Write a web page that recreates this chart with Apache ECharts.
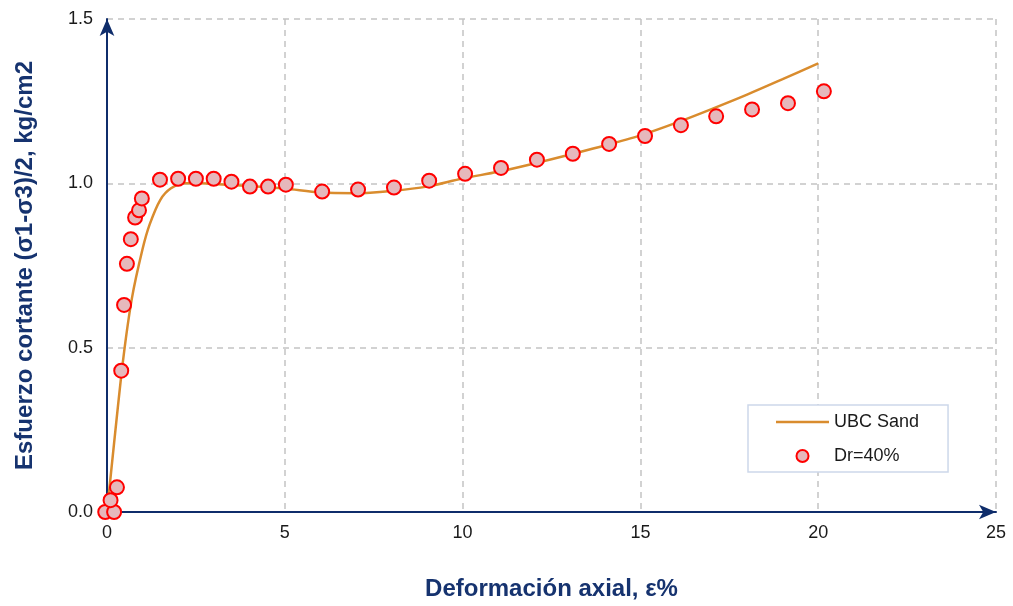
<!DOCTYPE html>
<html>
<head>
<meta charset="utf-8">
<title>Esfuerzo cortante vs deformación axial</title>
<script src="https://cdn.jsdelivr.net/npm/echarts@6/dist/echarts.min.js"></script>
<style>
  html, body { margin: 0; padding: 0; background: #ffffff; overflow: hidden; }
  #chart { width: 1013px; height: 606px; }
</style>
</head>
<body>
<div id="chart"></div>
<script>
// UBC Sand model curve: axial strain (%) and shear stress (kg/cm2)
const modelStrain = [0, 0.2, 0.45, 0.7, 1.0, 1.2, 1.5, 1.8, 2.2, 2.6, 3, 4, 5, 6, 7, 8, 9, 10, 11, 12, 13, 14, 15, 16, 17, 18, 19, 20];
const modelStress = [0, 0.21, 0.46, 0.65, 0.80, 0.875, 0.95, 0.985, 1.0, 1.0, 0.998, 0.992, 0.984, 0.972, 0.970, 0.977, 0.99, 1.015, 1.035, 1.06, 1.087, 1.115, 1.146, 1.184, 1.226, 1.27, 1.317, 1.365];

// Laboratory test, Dr = 40%
const testStrain = [-0.05, 0.2, 0.1, 0.28, 0.4, 0.48, 0.56, 0.67, 0.79, 0.9, 0.98, 1.49, 2.0, 2.5, 3.0, 3.5, 4.02, 4.53, 5.03, 6.05, 7.06, 8.07, 9.06, 10.07, 11.08, 12.09, 13.1, 14.12, 15.13, 16.14, 17.13, 18.14, 19.15, 20.16];
const testStress = [0, 0, 0.036, 0.075, 0.43, 0.63, 0.755, 0.83, 0.896, 0.918, 0.954, 1.011, 1.014, 1.014, 1.014, 1.005, 0.99, 0.99, 0.996, 0.975, 0.981, 0.987, 1.008, 1.029, 1.047, 1.072, 1.09, 1.12, 1.144, 1.177, 1.204, 1.225, 1.244, 1.28];

const xTicks = [0, 5, 10, 15, 20, 25];
const yTicks = [0, 0.5, 1.0, 1.5];

const navy = '#0f2d6b';
const titleColor = '#16336f';
const lineColor = '#d98c2e';
const font = 'Liberation Sans, Arial, sans-serif';

const zip = (a, b) => a.map((v, i) => [v, b[i]]);

const chart = echarts.init(document.getElementById('chart'), null, { renderer: 'canvas' });

chart.setOption({
  backgroundColor: '#ffffff',
  animation: false,
  textStyle: { fontFamily: font },
  grid: { left: 107, width: 889, top: 19, height: 497, containLabel: false },
  legend: {
    orient: 'vertical',
    left: 748,
    top: 405,
    backgroundColor: '#ffffff',
    borderColor: '#cdd8ea',
    borderWidth: 1.5,
    padding: [8, 29, 7, 28],
    itemGap: 16,
    itemWidth: 53,
    itemHeight: 12,
    textStyle: { fontSize: 18, color: '#1a1a1a', fontFamily: font },
    data: [
      { name: 'UBC Sand', icon: 'path://M0,5 L53,5 L53,7.5 L0,7.5 Z', itemStyle: { color: lineColor } },
      { name: 'Dr=40%', icon: 'circle', itemStyle: { color: '#e6b8bc', borderColor: '#ff0000', borderWidth: 2 } }
    ]
  },
  xAxis: {
    type: 'value',
    min: xTicks[0],
    max: xTicks[xTicks.length - 1],
    interval: 5,
    name: 'Deformación axial, ε%',
    nameLocation: 'middle',
    nameGap: 65,
    nameTextStyle: { fontSize: 24, fontWeight: 'bold', color: titleColor, fontFamily: font },
    axisLine: {
      show: true,
      onZero: false,
      symbol: ['none', 'arrow'],
      symbolSize: [11, 17],
      lineStyle: { color: navy, width: 2 }
    },
    axisTick: { show: false },
    axisLabel: { fontSize: 18, color: '#1a1a1a', margin: 12, fontFamily: font },
    splitLine: { show: true, lineStyle: { color: '#c4c4c4', type: [6, 5], width: 1.5 } }
  },
  yAxis: {
    type: 'value',
    min: yTicks[0],
    max: yTicks[yTicks.length - 1],
    interval: 0.5,
    name: 'Esfuerzo cortante (σ1-σ3)/2, kg/cm2',
    nameLocation: 'middle',
    nameGap: 70,
    nameTextStyle: { fontSize: 24, fontWeight: 'bold', color: titleColor, fontFamily: font },
    axisLine: {
      show: true,
      onZero: false,
      symbol: ['none', 'arrow'],
      symbolSize: [11, 17],
      lineStyle: { color: navy, width: 2 }
    },
    axisTick: { show: false },
    axisLabel: {
      fontSize: 18, color: '#1a1a1a', margin: 14, fontFamily: font,
      formatter: v => v.toFixed(1)
    },
    splitLine: { show: true, lineStyle: { color: '#c4c4c4', type: [6, 5], width: 1.5 } }
  },
  series: [
    {
      name: 'UBC Sand',
      type: 'line',
      data: zip(modelStrain, modelStress),
      smooth: 0.3,
      showSymbol: false,
      symbol: 'none',
      lineStyle: { color: lineColor, width: 2.5 },
      itemStyle: { color: lineColor },
      z: 2
    },
    {
      name: 'Dr=40%',
      type: 'scatter',
      data: zip(testStrain, testStress),
      symbol: 'circle',
      symbolSize: 14,
      clip: false,
      itemStyle: { color: '#e6b8bc', borderColor: '#ff0000', borderWidth: 2, opacity: 1 },
      z: 3
    }
  ]
});
</script>
</body>
</html>
